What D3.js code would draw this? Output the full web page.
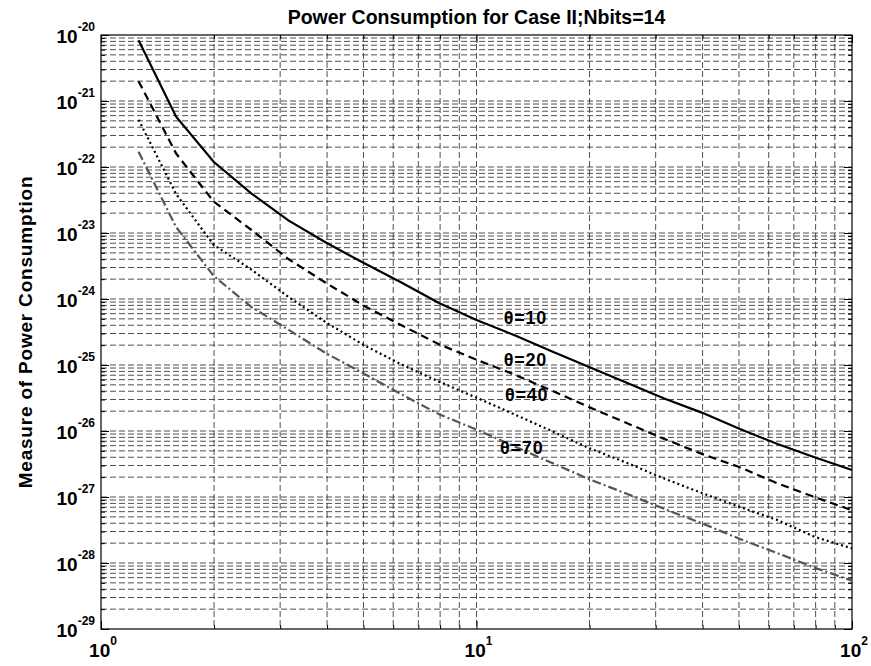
<!DOCTYPE html>
<html>
<head>
<meta charset="utf-8">
<script src="https://cdn.jsdelivr.net/npm/d3@7"></script>
<style>
    body { margin: 0; background: #fff; }
    text { font-family: "Liberation Sans", Arial, Helvetica, sans-serif;
           font-weight: bold; fill: #000; }
</style>
</head>
<body>
<script>
// Power consumption curves, log-log.
var xValues = [1.259, 1.585, 1.995, 2.512, 3.162, 3.981, 5.012, 6.310,
    7.943, 10, 12.59, 15.85, 19.95, 25.12, 31.62, 39.81, 50.12, 63.10,
    79.43, 100];

var theta10 = [8.3e-21, 5.8e-22, 1.2e-22, 4.0e-23, 1.54e-23, 7.1e-24,
    3.5e-24, 1.78e-24, 8.7e-25, 4.8e-25, 2.85e-25, 1.62e-25, 9.3e-26,
    5.4e-26, 3.1e-26, 1.9e-26, 1.08e-26, 6.4e-27, 4.0e-27, 2.57e-27];

var theta20 = [2.0e-21, 1.6e-22, 3.0e-23, 1.12e-23, 4.0e-24, 1.74e-24,
    7.9e-25, 4.0e-25, 2.06e-25, 1.2e-25, 7.2e-26, 4.1e-26, 2.3e-26,
    1.32e-26, 7.6e-27, 4.5e-27, 2.84e-27, 1.62e-27, 1.0e-27, 6.3e-28];

var theta40 = [5.2e-22, 3.9e-23, 6.6e-24, 2.8e-24, 1.07e-24, 4.4e-25,
    2.0e-25, 1.02e-25, 5.6e-26, 3.2e-26, 1.8e-26, 1.0e-26, 5.5e-27,
    3.3e-27, 1.9e-27, 1.15e-27, 7.1e-28, 4.5e-28, 2.5e-28, 1.66e-28];

var theta70 = [1.7e-22, 1.23e-23, 2.24e-24, 7.6e-25, 3.4e-25, 1.5e-25,
    7.4e-26, 3.6e-26, 1.8e-26, 1.05e-26, 5.9e-27, 3.3e-27, 1.86e-27,
    1.12e-27, 6.6e-28, 4.0e-28, 2.33e-28, 1.42e-28, 8.5e-29, 5.4e-29];

var seriesNames = ["\u03b8=10", "\u03b8=20", "\u03b8=40", "\u03b8=70"];

// tick labels: base 10 with exponent
var xTickExponents = [0, 1, 2];
var yTickExponents = [-20, -21, -22, -23, -24, -25, -26, -27, -28, -29];

var titleText = "Power Consumption for Case II;Nbits=14";
var yLabelText = "Measure of Power Consumption";

// margins around the plot box
var margin = {top: 35, right: 19, bottom: 37, left: 101},
    width = 871 - margin.left - margin.right,
    height = 666 - margin.top - margin.bottom;

var svg = d3.select("body").append("svg")
    .attr("width", 871)
    .attr("height", 666);

var g = svg.append("g")
    .attr("transform", "translate(" + margin.left + "," + margin.top + ")");

var xScale = d3.scaleLog().domain([1, 100]).range([0, width]);
var yScale = d3.scaleLog().domain([1e-29, 1e-20]).range([height, 0]);

// minor values (2..9 in every decade) used for grid and small ticks
var xMinor = [], yMinor = [];
xTickExponents.slice(0, -1).forEach(function(e) {
    for (var m = 2; m <= 9; m++) xMinor.push(m * Math.pow(10, e));
});
yTickExponents.slice(1).forEach(function(e) {
    for (var m = 2; m <= 9; m++) yMinor.push(m * Math.pow(10, e));
});
var xMajor = xTickExponents.map(function(e) { return Math.pow(10, e); });
var yMajor = yTickExponents.map(function(e) { return Math.pow(10, e); });

// dashed grid
var grid = g.append("g")
    .attr("stroke", "#333")
    .attr("stroke-opacity", 0.85)
    .attr("stroke-width", 1)
    .attr("stroke-dasharray", "6,3");

grid.selectAll(".vgrid")
    .data(xMinor.concat(xMajor.slice(1, -1)))
    .enter().append("line")
    .attr("x1", function(d) { return xScale(d); })
    .attr("x2", function(d) { return xScale(d); })
    .attr("y1", 0)
    .attr("y2", height);

grid.selectAll(".hgrid")
    .data(yMinor.concat(yMajor.slice(1, -1)))
    .enter().append("line")
    .attr("x1", 0)
    .attr("x2", width)
    .attr("y1", function(d) { return yScale(d); })
    .attr("y2", function(d) { return yScale(d); });

// inward ticks on all four sides
function drawTicks(axis, transform) {
    var a = g.append("g").attr("transform", transform).call(axis);
    a.select(".domain").remove();
    a.selectAll("text").remove();
    a.selectAll("line").attr("stroke", "#000");
}
drawTicks(d3.axisBottom(xScale).tickValues(xMajor).tickSize(-8),
    "translate(0," + height + ")");
drawTicks(d3.axisBottom(xScale).tickValues(xMinor).tickSize(-4),
    "translate(0," + height + ")");
drawTicks(d3.axisTop(xScale).tickValues(xMajor).tickSize(-8),
    "translate(0,0)");
drawTicks(d3.axisTop(xScale).tickValues(xMinor).tickSize(-4),
    "translate(0,0)");
drawTicks(d3.axisLeft(yScale).tickValues(yMajor).tickSize(-8),
    "translate(0,0)");
drawTicks(d3.axisLeft(yScale).tickValues(yMinor).tickSize(-4),
    "translate(0,0)");
drawTicks(d3.axisRight(yScale).tickValues(yMajor).tickSize(-8),
    "translate(" + width + ",0)");
drawTicks(d3.axisRight(yScale).tickValues(yMinor).tickSize(-4),
    "translate(" + width + ",0)");

// plot box
g.append("rect")
    .attr("width", width)
    .attr("height", height)
    .attr("fill", "none")
    .attr("stroke", "#000")
    .attr("stroke-width", 1.2);

// curves
var allSeries = [theta10, theta20, theta40, theta70];
var lineStyles = [
    {color: "#000", dash: null},
    {color: "#000", dash: "8,5"},
    {color: "#000", dash: "2,3"},
    {color: "#555", dash: "9,3,2,3"}
];

var line = d3.line()
    .x(function(d, i) { return xScale(xValues[i]); })
    .y(function(d) { return yScale(d); });

g.selectAll(".curve")
    .data(allSeries)
    .enter().append("path")
    .attr("class", "curve")
    .attr("d", line)
    .attr("fill", "none")
    .attr("stroke", function(d, i) { return lineStyles[i].color; })
    .attr("stroke-width", 2.2)
    .attr("stroke-dasharray", function(d, i) { return lineStyles[i].dash; });

// curve labels placed next to their line around x = 13.5
var labelAt = [{x: 13.5, y: 4.2e-25}, {x: 13.5, y: 9.7e-26},
    {x: 13.6, y: 2.8e-26}, {x: 13.2, y: 4.5e-27}];
g.selectAll(".clabel")
    .data(seriesNames)
    .enter().append("text")
    .attr("class", "clabel")
    .attr("x", function(d, i) { return xScale(labelAt[i].x); })
    .attr("y", function(d, i) { return yScale(labelAt[i].y); })
    .attr("text-anchor", "middle")
    .attr("font-size", "18px")
    .attr("letter-spacing", "0.8px")
    .text(function(d) { return d; });

// tick labels: "10" with raised exponent
function powerLabel(sel, exp) {
    sel.append("tspan").text("10");
    sel.append("tspan")
        .attr("dy", "-12")
        .attr("font-size", "12px")
        .text(exp);
}

g.selectAll(".xlab")
    .data(xTickExponents)
    .enter().append("text")
    .attr("class", "xlab")
    .attr("x", function(d) { return xScale(Math.pow(10, d)) + 2; })
    .attr("y", height + 28)
    .attr("text-anchor", "middle")
    .attr("font-size", "19px")
    .each(function(d) { powerLabel(d3.select(this), d); });

g.selectAll(".ylab")
    .data(yTickExponents)
    .enter().append("text")
    .attr("class", "ylab")
    .attr("x", -6)
    .attr("y", function(d) { return yScale(Math.pow(10, d)) + 8; })
    .attr("text-anchor", "end")
    .attr("font-size", "19px")
    .each(function(d) { powerLabel(d3.select(this), d); });

// title and axis label
svg.append("text")
    .attr("x", margin.left + width / 2)
    .attr("y", 24)
    .attr("text-anchor", "middle")
    .attr("font-size", "19.5px")
    .text(titleText);

svg.append("text")
    .attr("transform", "translate(32," + (margin.top + height / 2) + ")" +
        " rotate(-90)")
    .attr("text-anchor", "middle")
    .attr("font-size", "19px")
    .attr("letter-spacing", "0.8px")
    .text(yLabelText);
</script>
</body>
</html>
